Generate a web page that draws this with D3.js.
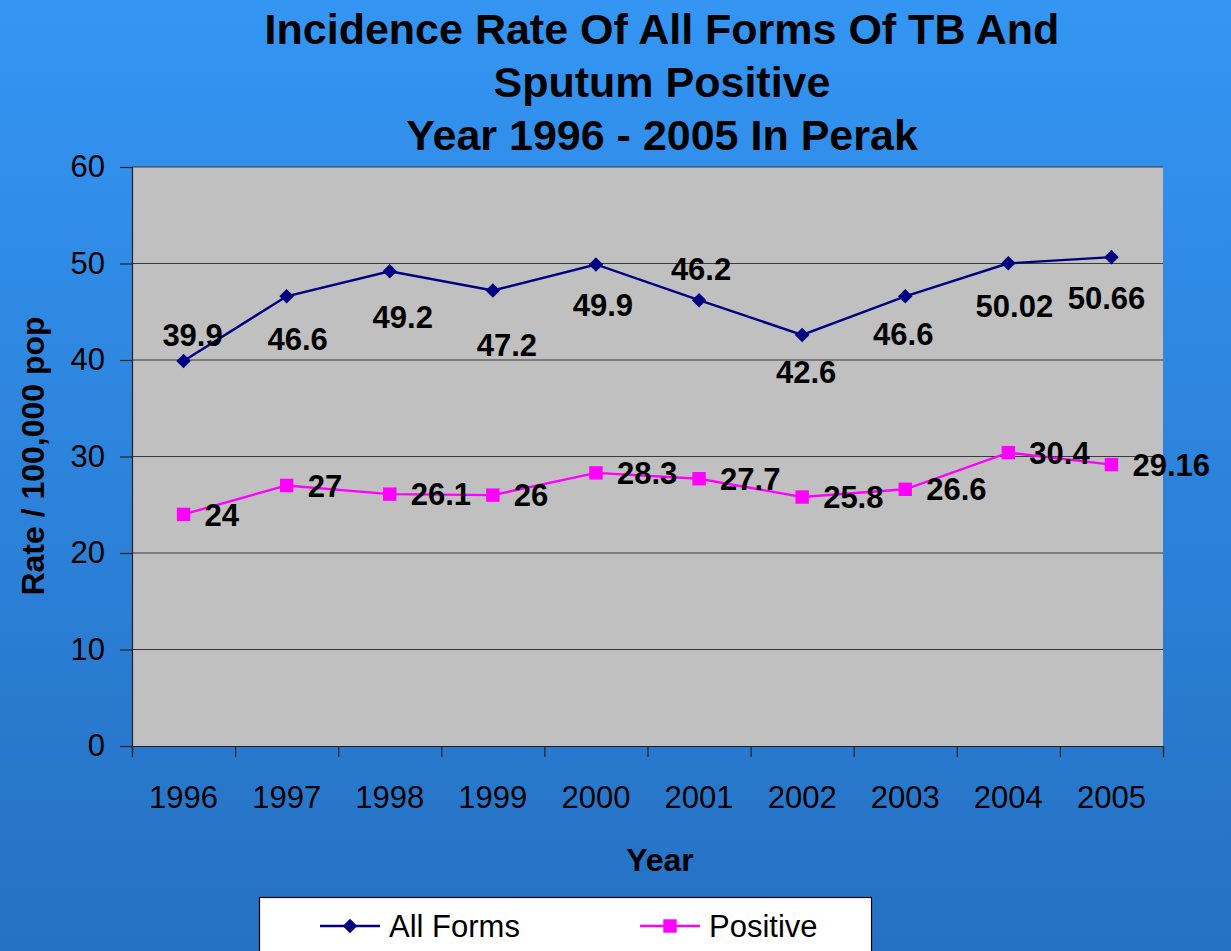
<!DOCTYPE html>
<html>
<head>
<meta charset="utf-8">
<script src="https://cdn.jsdelivr.net/npm/d3@7"></script>
<style>
  html, body { margin: 0; padding: 0; overflow: hidden; }
  svg { display: block; font-family: "Liberation Sans", Arial, sans-serif; }
</style>
</head>
<body>
<svg id="chart"></svg>
<script>
const years = ['1996', '1997', '1998', '1999', '2000', '2001', '2002', '2003', '2004', '2005'];
const allForms = [39.9, 46.6, 49.2, 47.2, 49.9, 46.2, 42.6, 46.6, 50.02, 50.66];
const positive = [24, 27, 26.1, 26, 28.3, 27.7, 25.8, 26.6, 30.4, 29.16];
const yTicks = [0, 10, 20, 30, 40, 50, 60];
const titleLines = ['Incidence Rate Of All Forms Of TB And', 'Sputum Positive', 'Year 1996 - 2005 In Perak'];

// label placement for the All Forms series (hand placed in the original)
const allLabelDx = [9, 11, 13, 14, 7, 2, 4, -2, 6, -5];
const allLabelDy = [-26, 43, 46, 54, 40, -31, 37, 38, 43, 41];

const width = 1231, height = 951;
const plot = { left: 132, top: 167, right: 1163, bottom: 746 };

const svg = d3.select('#chart')
    .attr('width', width)
    .attr('height', height);

const grad = svg.append('defs').append('linearGradient')
    .attr('id', 'bg').attr('x1', 0).attr('y1', 0).attr('x2', 0).attr('y2', 1);
grad.append('stop').attr('offset', '0%').attr('stop-color', '#3495F3');
grad.append('stop').attr('offset', '100%').attr('stop-color', '#2571C3');

svg.append('rect')
    .attr('width', width).attr('height', height)
    .attr('fill', 'url(#bg)');

const x = d3.scaleBand()
    .domain(years)
    .range([plot.left, plot.right])
    .padding(0);

const xEdge = d3.scaleLinear()
    .domain([0, years.length])
    .range([plot.left, plot.right]);

const y = d3.scaleLinear()
    .domain([0, 60])
    .range([plot.bottom, plot.top]);

const cx = d => x(d) + x.bandwidth() / 2;

// plot area
svg.append('rect')
    .attr('x', plot.left).attr('y', plot.top)
    .attr('width', plot.right - plot.left)
    .attr('height', plot.bottom - plot.top)
    .attr('fill', '#C0C0C0');

svg.append('g')
    .selectAll('line')
    .data(yTicks.filter(t => t > 0))
    .join('line')
    .attr('x1', plot.left).attr('x2', plot.right)
    .attr('y1', d => y(d)).attr('y2', d => y(d))
    .attr('stroke', '#3a3a3a')
    .attr('stroke-width', 1.2);

// y axis
const yAxis = svg.append('g')
    .attr('transform', `translate(${plot.left},0)`)
    .call(d3.axisLeft(y).tickValues(yTicks).tickSize(12).tickPadding(15));
yAxis.select('.domain').attr('stroke', '#222').attr('stroke-width', 1.2);
yAxis.selectAll('.tick line').attr('stroke', '#222').attr('stroke-width', 1.2);
yAxis.selectAll('.tick text')
    .attr('font-size', 31)
    .attr('font-family', '"Liberation Sans", Arial, sans-serif')
    .attr('fill', '#000');

// x axis: ticks between categories, labels at centres
const xAxis = svg.append('g')
    .attr('transform', `translate(0,${plot.bottom})`)
    .call(d3.axisBottom(xEdge).ticks(years.length).tickSize(11).tickFormat(''));
xAxis.select('.domain').attr('stroke', '#222').attr('stroke-width', 1.2);
xAxis.selectAll('.tick line').attr('stroke', '#222').attr('stroke-width', 1.2);

svg.append('g')
    .selectAll('text')
    .data(years)
    .join('text')
    .attr('x', d => cx(d))
    .attr('y', 808)
    .attr('text-anchor', 'middle')
    .attr('font-size', 31)
    .attr('fill', '#000')
    .text(d => d);

// axis titles
svg.append('text')
    .attr('x', 660).attr('y', 871)
    .attr('text-anchor', 'middle')
    .attr('font-size', 32).attr('font-weight', 'bold')
    .text('Year');

svg.append('text')
    .attr('transform', 'translate(44,456) rotate(-90)')
    .attr('text-anchor', 'middle')
    .attr('font-size', 32).attr('font-weight', 'bold')
    .text('Rate / 100,000 pop');

// title
svg.append('g')
    .selectAll('text')
    .data(titleLines)
    .join('text')
    .attr('x', 662)
    .attr('y', (d, i) => 44 + i * 53)
    .attr('text-anchor', 'middle')
    .attr('font-size', 43).attr('font-weight', 'bold')
    .attr('fill', '#000')
    .text(d => d);

// series
const line = d3.line()
    .x((d, i) => cx(years[i]))
    .y(d => y(d));

svg.append('path')
    .datum(allForms)
    .attr('d', line)
    .attr('fill', 'none')
    .attr('stroke', '#000080')
    .attr('stroke-width', 2.4);

svg.append('path')
    .datum(positive)
    .attr('d', line)
    .attr('fill', 'none')
    .attr('stroke', '#FF00FF')
    .attr('stroke-width', 2.4);

const diamond = d3.symbol().type(d3.symbolDiamond2).size(135);
const square = d3.symbol().type(d3.symbolSquare).size(180);

svg.append('g')
    .selectAll('path')
    .data(allForms)
    .join('path')
    .attr('transform', (d, i) => `translate(${cx(years[i])},${y(d)})`)
    .attr('d', diamond)
    .attr('fill', '#000080');

svg.append('g')
    .selectAll('path')
    .data(positive)
    .join('path')
    .attr('transform', (d, i) => `translate(${cx(years[i])},${y(d)})`)
    .attr('d', square)
    .attr('fill', '#FF00FF');

// data labels
svg.append('g')
    .selectAll('text')
    .data(allForms)
    .join('text')
    .attr('x', (d, i) => cx(years[i]) + allLabelDx[i])
    .attr('y', (d, i) => y(d) + allLabelDy[i])
    .attr('dy', '0.36em')
    .attr('text-anchor', 'middle')
    .attr('font-size', 31).attr('font-weight', 'bold')
    .attr('fill', '#000')
    .text(d => d);

svg.append('g')
    .selectAll('text')
    .data(positive)
    .join('text')
    .attr('x', (d, i) => cx(years[i]) + 21)
    .attr('y', d => y(d))
    .attr('dy', '0.36em')
    .attr('font-size', 31).attr('font-weight', 'bold')
    .attr('fill', '#000')
    .text(d => d);

// legend
const legend = svg.append('g');
legend.append('rect')
    .attr('x', 259.5).attr('y', 897.5)
    .attr('width', 612).attr('height', 70)
    .attr('fill', '#fff')
    .attr('stroke', '#000')
    .attr('stroke-width', 1.2);

const legendItems = [
    { name: 'All Forms', color: '#000080', sym: diamond, x: 320 },
    { name: 'Positive', color: '#FF00FF', sym: square, x: 640 }
];

legendItems.forEach(it => {
    legend.append('line')
        .attr('x1', it.x).attr('x2', it.x + 60)
        .attr('y1', 926).attr('y2', 926)
        .attr('stroke', it.color).attr('stroke-width', 2.4);
    legend.append('path')
        .attr('transform', `translate(${it.x + 30},926)`)
        .attr('d', it.sym)
        .attr('fill', it.color);
    legend.append('text')
        .attr('x', it.x + 69).attr('y', 937)
        .attr('font-size', 31)
        .attr('fill', '#000')
        .text(it.name);
});
</script>
</body>
</html>
